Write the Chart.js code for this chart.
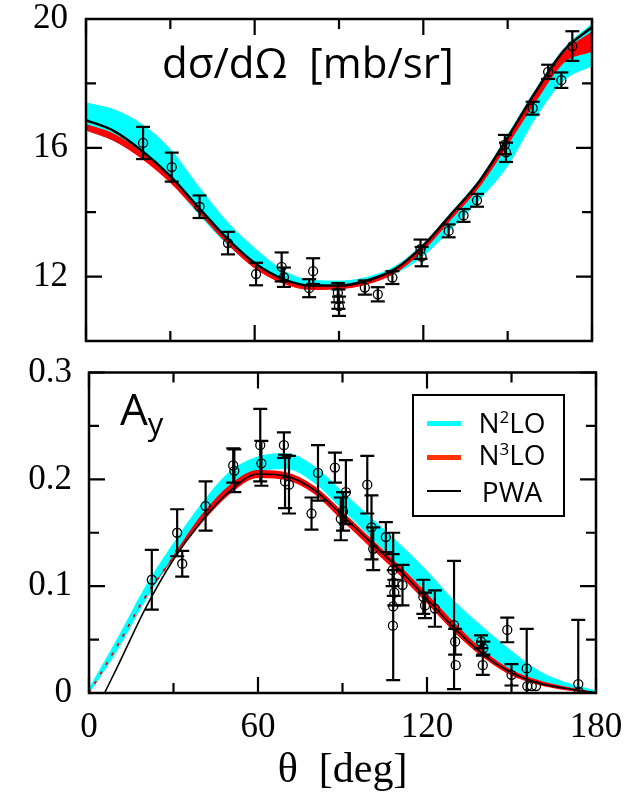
<!DOCTYPE html>
<html>
<head>
<meta charset="utf-8">
<script src="https://cdn.jsdelivr.net/npm/chart.js@4.4.1/dist/chart.umd.min.js"></script>
<style>
  body { margin: 0; background: #fff; width: 641px; height: 798px; position: relative; overflow: hidden; }
  canvas { position: absolute; left: 0; }
  #xsChart { top: 0; }
  #ayChart { top: 355px; }
  .lbl { position: absolute; font-family: "Open Sans", sans-serif; color: #000; white-space: nowrap; line-height: 1; }
  .sup { position: relative; top: -10px; font-size: 17px; }
  .swatch { position: absolute; left: 427px; width: 34px; }
</style>
</head>
<body>
<canvas id="xsChart" width="641" height="360"></canvas>
<canvas id="ayChart" width="641" height="443"></canvas>

<div class="lbl" style="left:162px; top:41px; font-size:42px;">dσ/dΩ&nbsp;&nbsp;[mb/sr]</div>
<div class="lbl" style="left:120px; top:386px; font-size:44px;">A<span style="font-size:31px; position:relative; top:10px;">y</span></div>

<!-- legend of the lower panel -->
<div style="position:absolute; left:412px; top:394px; width:153px; height:123px; border:2px solid #000; box-sizing:border-box;"></div>
<div class="swatch" style="top:421px; height:5px; background:#00ffff;"></div>
<div class="swatch" style="top:455px; height:5px; background:#ff3300;"></div>
<div class="swatch" style="top:490px; height:2px; background:#000;"></div>
<div class="lbl" style="left:462px; width:100px; text-align:center; top:408px; font-size:28px;">N<span class="sup">2</span>LO</div>
<div class="lbl" style="left:462px; width:100px; text-align:center; top:440px; font-size:28px;">N<span class="sup">3</span>LO</div>
<div class="lbl" style="left:462px; width:100px; text-align:center; top:477px; font-size:28px;">PWA</div>

<script>
var curveTheta = [0, 10, 20, 30, 40, 50, 60, 70, 80, 90, 100, 110, 120, 130, 140, 150, 160, 170, 180];

// cross section dsigma/dOmega [mb/sr]
var xsN2loLow  = [16.55, 16.22, 15.68, 14.95, 13.95, 13.02, 12.3, 11.88, 11.7, 11.7, 11.82, 12.1, 12.65, 13.5, 14.4, 15.45, 16.95, 18.1, 18.55];
var xsN2loHigh = [17.39, 17.18, 16.72, 15.95, 14.8, 13.72, 12.88, 12.2, 11.88, 11.86, 11.98, 12.32, 13.02, 14.0, 15.02, 16.4, 17.82, 19.08, 19.85];
var xsN3loLow  = [16.55, 16.22, 15.66, 14.92, 14.0, 13.05, 12.27, 11.8, 11.6, 11.62, 11.77, 12.12, 12.82, 13.8, 14.8, 16.1, 17.45, 18.65, 19.0];
var xsN3loHigh = [16.72, 16.42, 15.84, 15.08, 14.14, 13.18, 12.38, 11.9, 11.7, 11.71, 11.86, 12.22, 12.95, 13.92, 14.92, 16.28, 17.68, 18.95, 19.6];
var xsPwa      = [16.86, 16.52, 15.9, 15.12, 14.15, 13.2, 12.42, 11.93, 11.72, 11.72, 11.88, 12.24, 12.97, 13.95, 14.97, 16.32, 17.75, 19.02, 19.75];

var xsDataTheta = [20.3, 30.5, 40.4, 50.5, 60.5, 69.6, 70.4, 79.4, 80.8, 89.6, 89.8, 90.0, 99.2, 103.8, 109.0, 119.0, 119.4, 129.0, 134.3, 139.1, 149.0, 149.4, 158.9, 164.4, 169.1, 173.0];
var xsDataValue = [16.15, 15.4, 14.17, 13.04, 12.08, 12.3, 11.98, 11.64, 12.17, 11.5, 11.3, 11.08, 11.66, 11.45, 11.97, 12.85, 12.62, 13.42, 13.9, 14.37, 16.1, 15.86, 17.23, 18.36, 18.1, 19.16];
var xsDataError = [0.5, 0.45, 0.35, 0.35, 0.35, 0.45, 0.3, 0.28, 0.4, 0.3, 0.3, 0.3, 0.22, 0.22, 0.2, 0.3, 0.3, 0.2, 0.2, 0.2, 0.3, 0.3, 0.2, 0.22, 0.24, 0.46];

// analyzing power Ay
var ayN2loLow  = [0.0, 0.04, 0.087, 0.127, 0.162, 0.191, 0.207, 0.21, 0.197, 0.172, 0.146, 0.12, 0.093, 0.063, 0.039, 0.021, 0.01, 0.004, 0.0];
var ayN2loHigh = [0.004, 0.05, 0.099, 0.14, 0.177, 0.207, 0.221, 0.224, 0.212, 0.188, 0.164, 0.14, 0.114, 0.085, 0.061, 0.039, 0.02, 0.009, 0.002];
var ayN3loLow  = [0.0, 0.044, 0.09, 0.126, 0.16, 0.187, 0.202, 0.2, 0.187, 0.162, 0.137, 0.112, 0.085, 0.057, 0.034, 0.017, 0.008, 0.003, 0.0];
var ayN3loHigh = [0.0, 0.044, 0.09, 0.128, 0.166, 0.194, 0.208, 0.206, 0.193, 0.169, 0.144, 0.119, 0.092, 0.064, 0.039, 0.021, 0.011, 0.005, 0.0];
var ayPwaTheta = [5.5, 10, 20, 30, 40, 50, 60, 70, 80, 90, 100, 110, 120, 130, 140, 150, 160, 170, 180];
var ayPwa      = [0.0, 0.024, 0.079, 0.125, 0.161, 0.189, 0.205, 0.203, 0.19, 0.166, 0.141, 0.116, 0.088, 0.06, 0.036, 0.019, 0.009, 0.004, 0.0];

var ayDataTheta = [22.3, 31.3, 33.1, 41.4, 51.2, 51.6, 60.8, 61.2, 69.2, 69.6, 71.0, 79.0, 81.3, 87.3, 89.4, 90.2, 91.2, 98.8, 100.3, 100.9, 105.4, 107.8, 108.2, 108.4, 108.0, 107.9, 111.3, 118.7, 119.3, 122.8, 129.6, 130.0, 130.2, 139.2, 140.0, 139.8, 148.5, 150.0, 155.4, 155.6, 157.2, 158.7, 173.7, 173.9];
var ayDataValue = [0.106, 0.150, 0.121, 0.175, 0.213, 0.208, 0.232, 0.215, 0.232, 0.198, 0.195, 0.168, 0.206, 0.211, 0.163, 0.170, 0.188, 0.195, 0.155, 0.135, 0.146, 0.115, 0.103, 0.094, 0.081, 0.063, 0.101, 0.090, 0.082, 0.079, 0.0636, 0.048, 0.026, 0.048, 0.042, 0.026, 0.059, 0.017, 0.023, 0.0065, 0.0065, 0.0065, 0.0084, 0.001];
var ayDataError = [0.028, 0.022, 0.012, 0.023, 0.016, 0.020, 0.034, 0.021, 0.012, 0.025, 0.027, 0.015, 0.026, 0.014, 0.020, 0.018, 0.030, 0.027, 0.030, 0.020, 0.014, 0.015, 0.012, 0.012, 0.069, 0, 0.019, 0.016, 0.012, 0.017, 0.060, 0.012, 0, 0.006, 0.006, 0.009, 0.0115, 0.010, 0.037, 0, 0, 0, 0.060, 0];

var tickFont = { family: 'Liberation Serif', size: 35, lineHeight: 1 };

function pairs(theta, vals) {
  return theta.map(function (t, i) { return { x: t, y: vals[i] }; });
}

// each error bar is a two point segment, a null point breaks the line
function errorBars(theta, vals, errs) {
  var pts = [];
  theta.forEach(function (t, i) {
    if (errs[i] > 0) {
      pts.push({ x: t, y: vals[i] - errs[i] }, { x: t, y: vals[i] + errs[i] }, { x: t, y: null });
    }
  });
  return pts;
}

// frame and inward tick marks on all four sides
var frameTicks = {
  id: 'frameTicks',
  afterDatasetsDraw: function (chart) {
    var ctx = chart.ctx, a = chart.chartArea, sx = chart.scales.x, sy = chart.scales.y;
    ctx.save();
    ctx.strokeStyle = '#000';
    ctx.lineWidth = 2.2;
    ctx.beginPath();
    sx.ticks.forEach(function (t) {
      var px = sx.getPixelForValue(t.value), len = t.label !== '' ? 16 : 10;
      ctx.moveTo(px, a.bottom); ctx.lineTo(px, a.bottom - len);
      ctx.moveTo(px, a.top); ctx.lineTo(px, a.top + len);
    });
    sy.ticks.forEach(function (t) {
      var py = sy.getPixelForValue(t.value), len = t.label !== '' ? 16 : 10;
      ctx.moveTo(a.left, py); ctx.lineTo(a.left + len, py);
      ctx.moveTo(a.right, py); ctx.lineTo(a.right - len, py);
    });
    ctx.stroke();
    ctx.lineWidth = 2.5;
    ctx.strokeRect(a.left, a.top, a.right - a.left, a.bottom - a.top);
    ctx.restore();
  }
};

function makeDatasets(d) {
  return [
    { data: pairs(d.dataTheta, d.dataValue), showLine: false, pointStyle: 'circle', pointRadius: 4.5,
      pointBorderWidth: 1.3, pointBorderColor: '#000', pointBackgroundColor: 'rgba(0,0,0,0)' },
    { data: errorBars(d.dataTheta, d.dataValue, d.dataError), borderColor: '#000', borderWidth: 2.2, spanGaps: false,
      pointStyle: 'line', pointRadius: 7, pointBorderWidth: 2.2, pointBorderColor: '#000' },
    { data: pairs(d.pwaTheta, d.pwa), borderColor: '#000', borderWidth: d.pwaWidth, pointRadius: 0,
      cubicInterpolationMode: 'monotone' },
    { data: pairs(curveTheta, d.n3High), borderColor: '#ff0000', backgroundColor: '#ff0000', borderWidth: d.redWidth,
      pointRadius: 0, fill: '+1', cubicInterpolationMode: 'monotone', segment: d.redSegment },
    { data: pairs(curveTheta, d.n3Low), borderColor: '#ff0000', borderWidth: d.redWidth, pointRadius: 0,
      cubicInterpolationMode: 'monotone', segment: d.redSegment },
    { data: pairs(curveTheta, d.n2High), borderColor: '#00ffff', backgroundColor: '#00ffff', borderWidth: 1,
      pointRadius: 0, fill: '+1', cubicInterpolationMode: 'monotone' },
    { data: pairs(curveTheta, d.n2Low), borderColor: '#00ffff', borderWidth: 1, pointRadius: 0,
      cubicInterpolationMode: 'monotone' }
  ];
}

// invisible outward ticks give the label gap (ticks.padding would also pad the chart area)
function gapGrid(len) {
  return { display: true, drawOnChartArea: false, drawTicks: true, tickLength: len, tickColor: 'rgba(0,0,0,0)' };
}

// upper panel: cross section
new Chart(document.getElementById('xsChart'), {
  type: 'line',
  data: {
    datasets: makeDatasets({
      dataTheta: xsDataTheta, dataValue: xsDataValue, dataError: xsDataError,
      pwaTheta: curveTheta, pwa: xsPwa, pwaWidth: 2.5,
      n3Low: xsN3loLow, n3High: xsN3loHigh, redWidth: 1, redSegment: {},
      n2Low: xsN2loLow, n2High: xsN2loHigh
    })
  },
  options: {
    responsive: false,
    animation: false,
    layout: { padding: { left: 0, top: 19, right: 49, bottom: 19 } },
    plugins: { legend: { display: false }, tooltip: { enabled: false } },
    scales: {
      x: {
        type: 'linear', min: 0, max: 180,
        ticks: { display: false, stepSize: 30, autoSkip: false, padding: 0,
          callback: function (v) { return v % 60 === 0 ? String(v) : ''; } },
        grid: { display: false, drawTicks: false }, border: { display: false },
        afterFit: function (s) { s.height = 0; }
      },
      y: {
        type: 'linear', min: 10, max: 20,
        ticks: { stepSize: 2, autoSkip: false, padding: 0, color: '#000', font: tickFont,
          callback: function (v) { return v % 4 === 0 ? String(v) : ''; } },
        grid: gapGrid(18), border: { display: false },
        afterFit: function (s) { s.width = 86; }
      }
    }
  },
  plugins: [frameTicks]
});

// lower panel: analyzing power
new Chart(document.getElementById('ayChart'), {
  type: 'line',
  data: {
    datasets: makeDatasets({
      dataTheta: ayDataTheta, dataValue: ayDataValue, dataError: ayDataError,
      pwaTheta: ayPwaTheta, pwa: ayPwa, pwaWidth: 1.6,
      n3Low: ayN3loLow, n3High: ayN3loHigh, redWidth: 1.5,
      redSegment: { borderDash: function (c) { return c.p0.parsed.x < 28 ? [3, 8] : undefined; } },
      n2Low: ayN2loLow, n2High: ayN2loHigh
    })
  },
  options: {
    responsive: false,
    animation: false,
    layout: { padding: { left: 0, top: 17, right: 45, bottom: 0 } },
    plugins: { legend: { display: false }, tooltip: { enabled: false } },
    scales: {
      x: {
        type: 'linear', min: 0, max: 180,
        ticks: { stepSize: 30, autoSkip: false, maxRotation: 0, padding: 0, color: '#000', font: tickFont,
          callback: function (v) { return v % 60 === 0 ? String(v) : ''; } },
        title: { display: true, text: 'θ  [deg]', color: '#000',
          font: { family: 'Liberation Serif', size: 42, lineHeight: 1.2 }, padding: { top: 0, bottom: 2 } },
        grid: gapGrid(17), border: { display: false },
        afterFit: function (s) { s.height = 105; }
      },
      y: {
        type: 'linear', min: 0, max: 0.3,
        ticks: { stepSize: 0.05, autoSkip: false, padding: 0, color: '#000', font: tickFont,
          callback: function (v) {
            var k = Math.round(v * 20);
            return k % 2 === 0 ? (k === 0 ? '0' : (k / 20).toFixed(1)) : '';
          } },
        grid: gapGrid(17), border: { display: false },
        afterFit: function (s) { s.width = 89; }
      }
    }
  },
  plugins: [frameTicks]
});
</script>
</body>
</html>
